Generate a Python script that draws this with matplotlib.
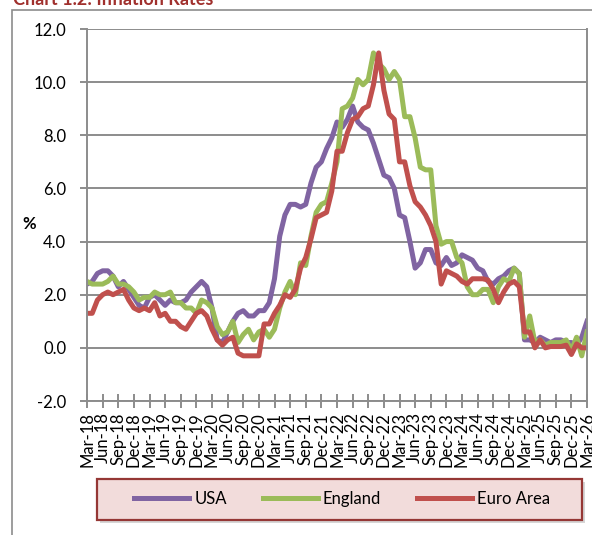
# inflation rates chart: USA, England, Euro Area

import matplotlib.pyplot as plt
import numpy as np
import pandas as pd
from matplotlib.patches import Rectangle
from matplotlib.ticker import FormatStrFormatter

plt.rcParams['font.family'] = ['Lato', 'DejaVu Sans']

# monthly categories Mar-18 .. Mar-26
months = pd.date_range('2018-03-01', '2026-03-01', freq='MS').strftime('%b-%y').tolist()

# series values (%)
usa = [2.4, 2.5, 2.8, 2.9, 2.9, 2.7, 2.3, 2.5, 2.2, 1.9,
       1.6, 1.5, 1.9, 2.0, 1.8, 1.6, 1.8, 1.7, 1.7, 1.8, 2.1, 2.3,
       2.5, 2.3, 1.5, 0.3, 0.2, 0.6, 1.0, 1.3, 1.4, 1.2, 1.2, 1.4,
       1.4, 1.7, 2.6, 4.2, 5.0, 5.4, 5.4, 5.3, 5.4, 6.2, 6.8, 7.0,
       7.5, 7.9, 8.5, 8.3, 8.6, 9.1, 8.5, 8.3, 8.2, 7.7, 7.1, 6.5,
       6.4, 6.0, 5.0, 4.9, 4.0, 3.0, 3.2, 3.7, 3.7, 3.2, 3.1, 3.4,
       3.1, 3.2, 3.5, 3.4, 3.3, 3.0, 2.9, 2.5, 2.4, 2.6, 2.7, 2.9,
       3.0, 2.8, 0.3, 0.3, 0.2, 0.4, 0.3, 0.2, 0.3, 0.3, 0.2, 0.2,
       0.1, 0.4, 1.0]

england = [2.5, 2.4, 2.4, 2.4, 2.5, 2.7, 2.4, 2.4, 2.3, 2.1,
           1.8, 1.9, 1.9, 2.1, 2.0, 2.0, 2.1, 1.7, 1.7, 1.5, 1.5, 1.3,
           1.8, 1.7, 1.5, 0.8, 0.5, 0.6, 1.0, 0.2, 0.5, 0.7, 0.3, 0.6,
           0.7, 0.4, 0.7, 1.5, 2.1, 2.5, 2.0, 3.2, 3.1, 4.2, 5.1, 5.4,
           5.5, 6.2, 7.0, 9.0, 9.1, 9.4, 10.1, 9.9, 10.1, 11.1, 10.7, 10.5,
           10.1, 10.4, 10.1, 8.7, 8.7, 7.9, 6.8, 6.7, 6.7, 4.6, 3.9, 4.0,
           4.0, 3.4, 3.2, 2.3, 2.0, 2.0, 2.2, 2.2, 1.7, 2.3, 2.6, 2.5,
           3.0, 2.8, 0.4, 1.2, 0.2, 0.3, 0.1, 0.2, 0.2, 0.2, 0.3, -0.1,
           0.4, -0.3, 0.6]

euro_area = [1.3, 1.3, 1.8, 2.0, 2.1, 2.0, 2.1, 2.2, 1.8, 1.5,
             1.4, 1.5, 1.4, 1.7, 1.2, 1.3, 1.0, 1.0, 0.8, 0.7, 1.0, 1.3,
             1.4, 1.2, 0.7, 0.3, 0.1, 0.3, 0.4, -0.2, -0.3, -0.3, -0.3, -0.3,
             0.9, 0.9, 1.3, 1.6, 2.0, 1.9, 2.2, 3.0, 3.4, 4.1, 4.9, 5.0,
             5.1, 5.9, 7.4, 7.4, 8.1, 8.6, 8.7, 9.0, 9.1, 9.9, 11.1, 9.7,
             8.8, 8.6, 7.0, 7.0, 6.1, 5.5, 5.3, 5.0, 4.6, 4.0, 2.4, 2.9,
             2.8, 2.7, 2.5, 2.4, 2.6, 2.6, 2.6, 2.55, 2.2, 1.7, 2.1, 2.4,
             2.5, 2.3, 0.6, 0.6, 0.0, 0.3, 0.0, 0.05, 0.05, 0.05, 0.1, -0.25,
             0.15, 0.0, 0.0]

series_names = ['USA', 'England', 'Euro Area']
colors = ['#8064A2', '#9BBB59', '#C0504D']
grid_col = '#8C8C8C'

W, H = 592, 535
fig = plt.figure(figsize=(W / 100, H / 100), dpi=100)

# outer chart border (runs off the right and bottom edges)
fig.add_artist(Rectangle((12 / W, -0.2), 2, 1 - 10 / H + 0.2, transform=fig.transFigure,
                         fill=False, ec=grid_col, lw=1.2))

# title, mostly cut off at the top
fig.text(13 / W, 1 - 5 / H, 'Chart 1.2: Inflation Rates', color='#A0302D',
         fontsize=13, fontweight='bold', ha='left', va='baseline')

ax = fig.add_axes([87 / W, 1 - 401 / H, 500 / W, 372 / H])
x = np.arange(len(months))
for vals, name, c in zip([usa, england, euro_area], series_names, colors):
    ax.plot(x, vals, color=c, lw=3.6, label=name, solid_joinstyle='round')

ax.set_xlim(0, len(months) - 1)
ax.set_ylim(-2, 12)
ax.set_yticks(np.arange(-2, 13, 2))
ax.yaxis.set_major_formatter(FormatStrFormatter('%.1f'))
ax.set_xticks(x[::3])
ax.set_xticklabels(months[::3], rotation=90)

ax.grid(axis='y', color=grid_col, lw=1.4)
ax.set_axisbelow(True)
ax.spines['top'].set_visible(False)
for s in ['left', 'bottom', 'right']:
    ax.spines[s].set_color(grid_col)
    ax.spines[s].set_linewidth(1.4)

ax.tick_params(axis='y', direction='out', length=5, width=1.4, color=grid_col,
               pad=10, labelsize=12)
ax.tick_params(axis='x', direction='inout', length=10, width=1.4, color=grid_col,
               pad=3, labelsize=12)

fig.text(29 / W, 1 - 224 / H, '%', fontsize=12, fontweight='bold', ha='center', va='center')

# legend box with shadow
lx0, ly0, lx1, ly1 = 97, 479, 582, 520
fig.add_artist(Rectangle(((lx0 + 3) / W, 1 - (ly1 + 3) / H), (lx1 - lx0) / W, (ly1 - ly0) / H,
                         transform=fig.transFigure, fc='#BBBBBB', ec='none', alpha=0.6))
fig.add_artist(Rectangle((lx0 / W, 1 - ly1 / H), (lx1 - lx0) / W, (ly1 - ly0) / H,
                         transform=fig.transFigure, fc='#F2DCDB', ec='#953735', lw=1.6))

leg = fig.legend(loc='center', bbox_to_anchor=(342 / W, 1 - 499 / H), ncol=3,
                 frameon=False, fontsize=12, handlelength=3.3, handletextpad=0.3,
                 columnspacing=2.15)

fig.savefig('out.png', dpi=100)
